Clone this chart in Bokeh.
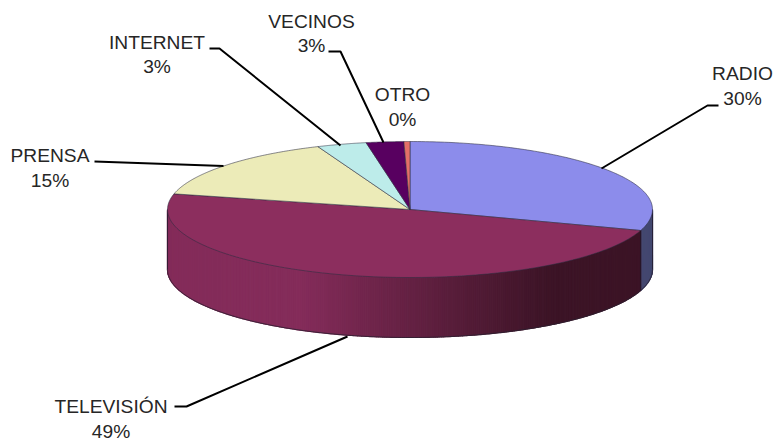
import numpy as np
from bokeh.plotting import figure
from bokeh.models import Range1d
from bokeh.core.properties import value
from bokeh.embed import file_html
from bokeh.resources import INLINE

categories = ["RADIO", "TELEVISIÓN", "PRENSA", "INTERNET", "VECINOS", "OTRO"]
shares = [30.0, 48.7, 15.1, 3.3, 2.5, 0.4]
pct_labels = ["30%", "49%", "15%", "3%", "3%", "0%"]
colors = ["#8c8ceb", "#8c2e5e", "#ecebb8", "#bdecea", "#580060", "#e46f68"]

# pie geometry (styling), in picture pixels
CX, CY, RX, RY, DEPTH = 409.5, 209, 242.5, 68, 60
# label layout (styling): text centre x, first line y, leader polyline
label_pos = {
    "RADIO": (742, 73, [(601, 168), (707, 105), (718, 105)]),
    "TELEVISIÓN": (110.5, 406, [(347, 336), (186, 406), (174, 406)]),
    "PRENSA": (49.5, 155, [(223, 165.5), (94, 161)]),
    "INTERNET": (156.5, 41.5, [(340, 145), (219, 48), (209, 48)]),
    "VECINOS": (311, 20.5, [(383, 142), (340, 51), (328, 51)]),
    "OTRO": (402, 94, []),
}

p = figure(width=774, height=440, x_range=Range1d(0, 774), y_range=Range1d(440, 0),
           output_backend="svg", toolbar_location=None, min_border=0,
           outline_line_color=None, background_fill_color="white",
           border_fill_color="white")
p.axis.visible = False
p.grid.visible = False


def ex(t):
    return CX + RX * np.sin(t)


def ey(t):
    return CY - RY * np.cos(t)


edges = np.concatenate([[0], np.cumsum(shares)]) / sum(shares) * 2 * np.pi


def mix(a, b, f):
    ca = [int(a[i:i + 2], 16) for i in (1, 3, 5)]
    cb = [int(b[i:i + 2], 16) for i in (1, 3, 5)]
    return "#%02x%02x%02x" % tuple(int(round(x + (y - x) * f)) for x, y in zip(ca, cb))


# side wall: radio part and television part, shaded in thin strips
radio_side = "#444870"
tv_dark = "#3c1426"
tv_side = "#842c5a"
strip_edges = np.linspace(np.pi / 2, 3 * np.pi / 2, 361)
for t0, t1 in zip(strip_edges[:-1], strip_edges[1:]):
    tm = (t0 + t1) / 2
    if tm < edges[1]:
        col = radio_side
    else:
        xf = (ex(tm) - 300) / 250  # flat on the left, dark from about x=550
        col = mix(tv_side, tv_dark, float(np.clip(xf, 0, 1)))
    xs = [ex(t0), ex(t1), ex(t1), ex(t0)]
    ys = [ey(t0), ey(t1), ey(t1) + DEPTH, ey(t0) + DEPTH]
    p.patch(xs, ys, fill_color=col, line_color=col, line_width=1.2)

# wall outline
tt = np.linspace(np.pi / 2, 3 * np.pi / 2, 181)
p.line(ex(tt), ey(tt) + DEPTH, line_color="#2a2030", line_width=0.8)
for t in (np.pi / 2, edges[1], 3 * np.pi / 2):
    p.line([ex(t), ex(t)], [ey(t), ey(t) + DEPTH], line_color="#20182a", line_width=0.8)

# top slices
for i, col in enumerate(colors):
    t = np.linspace(edges[i], edges[i + 1], 120)
    xs = np.concatenate([[CX], ex(t)])
    ys = np.concatenate([[CY], ey(t)])
    p.patch(xs, ys, fill_color=col, line_color="#2c2c40", line_width=0.7, line_alpha=0.8)

# labels and leaders
font = value("Liberation Sans")
for cat, pct in zip(categories, pct_labels):
    x, y, leader = label_pos[cat]
    if leader:
        p.line([q[0] for q in leader], [q[1] for q in leader], line_color="#000000", line_width=2)
    p.text([x], [y], text=[cat], text_font=font, text_font_size="19.2px", text_color="#262626",
           text_align="center", text_baseline="middle")
    p.text([x], [y + 24.5], text=[pct], text_font=font, text_font_size="19.2px", text_color="#262626",
           text_align="center", text_baseline="middle")

open("out.html", "w").write(file_html(p, INLINE))
